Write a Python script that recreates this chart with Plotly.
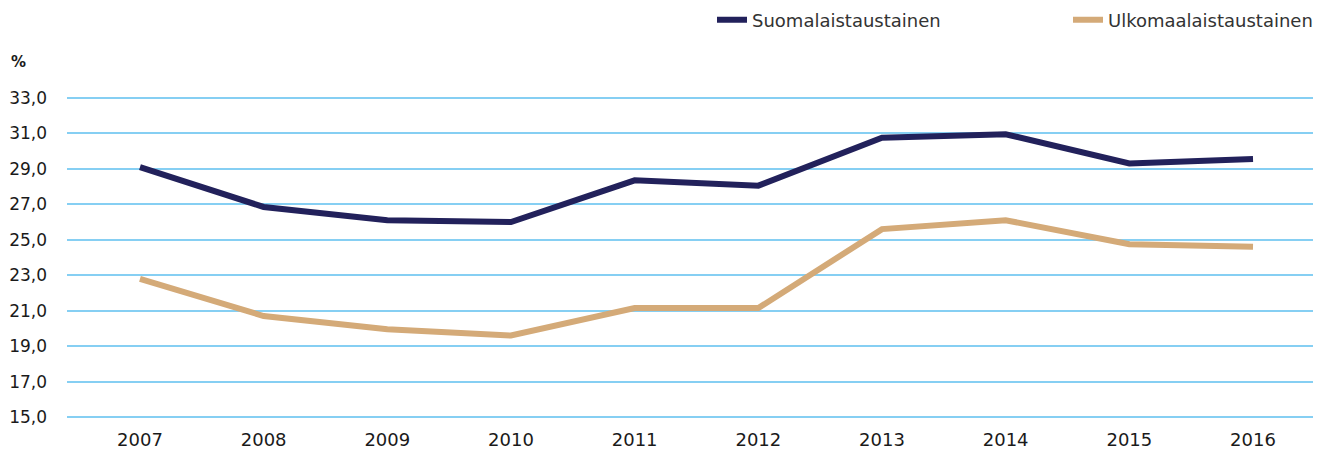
import plotly.graph_objects as go

years = ["2007", "2008", "2009", "2010", "2011", "2012", "2013", "2014", "2015", "2016"]
suomalais = [29.1, 26.85, 26.1, 26.0, 28.35, 28.05, 30.75, 30.95, 29.3, 29.55]
ulkomaalais = [22.8, 20.7, 19.95, 19.6, 21.15, 21.15, 25.6, 26.1, 24.75, 24.6]
y_ticks = [15, 17, 19, 21, 23, 25, 27, 29, 31, 33]

FONT = "'DejaVu Sans', sans-serif"
# the html page body has an 8px margin, so the figure is sized to fit the rest
W, H = 1319, 444
ML, MR, MT, MB = 59, 14, 81, 26

fig = go.Figure()
fig.add_trace(go.Scatter(x=years, y=suomalais, mode="lines", name="Suomalaistaustainen",
                         line=dict(color="#22215B", width=6)))
fig.add_trace(go.Scatter(x=years, y=ulkomaalais, mode="lines", name="Ulkomaalaistaustainen",
                         line=dict(color="#D4AA78", width=6)))

fig.update_layout(
    width=W, height=H,
    paper_bgcolor="white", plot_bgcolor="white",
    margin=dict(l=ML, r=MR, t=MT, b=MB, autoexpand=False),
    separators=", ",
    font=dict(family=FONT, color="#1a1a1a", size=18),
    showlegend=True,
    legend=dict(orientation="h", xref="container", x=704 / W, xanchor="left",
                yref="container", y=1 - 12 / H, yanchor="middle",
                font=dict(size=18, color="#333333", family=FONT),
                entrywidth=311, entrywidthmode="pixels", traceorder="normal"),
    xaxis=dict(type="category", range=[-0.59, 9.485], showgrid=False, zeroline=False,
               showline=False, ticks="", ticklabelstandoff=1,
               tickfont=dict(size=18, color="#1a1a1a")),
    yaxis=dict(range=[14.5, 33.5], tickvals=y_ticks, tickformat=".1f", showgrid=True,
               gridcolor="#86CFF3", gridwidth=2, zeroline=False, showline=False,
               ticks="", ticklabelstandoff=19, tickfont=dict(size=17, color="#1a1a1a")),
)

plot_w = W - ML - MR
plot_h = H - MT - MB
fig.add_annotation(text="<b>%</b>", xref="paper", yref="paper", showarrow=False,
                   x=(10 - ML) / plot_w, y=(H - MB - 54) / plot_h,
                   xanchor="center", yanchor="middle",
                   font=dict(size=15, family=FONT, color="#1a1a1a"))

fig.write_html("out.html")
